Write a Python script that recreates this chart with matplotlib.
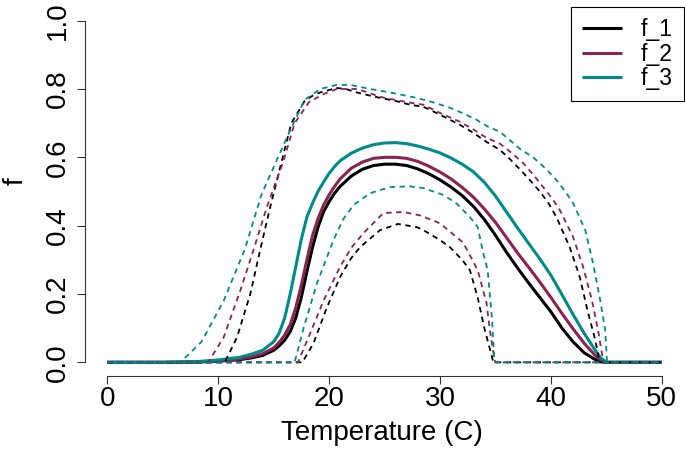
import matplotlib
matplotlib.use("Agg")
import matplotlib.pyplot as plt

plt.rcParams['font.family'] = ['Liberation Sans', 'DejaVu Sans']

# temperature (C) / value pairs
t1 = [0, 5, 8, 10, 12, 13, 14, 15, 15.5, 16, 16.5, 17, 17.5, 18, 18.5, 19, 19.5, 20, 20.5, 21, 22, 23, 24, 25, 26, 27,
      28, 29, 30, 31, 32, 33, 34, 35, 36, 37, 38, 39, 40, 41, 42, 43, 44, 44.5, 45, 50]
f1 = [0, 0, 0.001, 0.003, 0.008, 0.013, 0.02, 0.035, 0.048, 0.065, 0.09, 0.13, 0.19, 0.265, 0.335, 0.395, 0.44, 0.47,
      0.495, 0.515, 0.545, 0.565, 0.576, 0.58, 0.58, 0.576, 0.566, 0.552, 0.534, 0.513, 0.488, 0.457, 0.418, 0.372,
      0.322, 0.276, 0.232, 0.19, 0.148, 0.1, 0.06, 0.028, 0.008, 0.002, 0, 0]
f2 = [0, 0, 0.001, 0.004, 0.01, 0.016, 0.025, 0.042, 0.058, 0.08, 0.11, 0.16, 0.225, 0.3, 0.37, 0.42, 0.46, 0.49,
      0.515, 0.537, 0.568, 0.586, 0.597, 0.6, 0.6, 0.597, 0.588, 0.574, 0.557, 0.537, 0.512, 0.484, 0.449, 0.41, 0.365,
      0.32, 0.278, 0.235, 0.19, 0.143, 0.098, 0.056, 0.02, 0.006, 0, 0]
f3 = [0, 0, 0.002, 0.007, 0.015, 0.024, 0.035, 0.06, 0.085, 0.13, 0.2, 0.28, 0.36, 0.425, 0.465, 0.5, 0.527, 0.553,
      0.573, 0.59, 0.612, 0.627, 0.637, 0.642, 0.643, 0.64, 0.633, 0.624, 0.613, 0.598, 0.58, 0.558, 0.527, 0.487,
      0.44, 0.393, 0.348, 0.303, 0.255, 0.198, 0.14, 0.085, 0.035, 0.013, 0, 0]

# upper bounds
t1_hi = [0, 10.6, 11.7, 12.9, 13.8, 14.7, 15.9, 16.6, 17.8, 18.5, 19.2, 20, 20.7, 21.5, 22.5, 23.5, 24.6, 26, 27.3,
         28.5, 30, 31.8, 33, 34.2, 35.4, 36.3, 37.2, 38.2, 39, 39.8, 40.5, 41.7, 42.6, 43.3, 44, 44.3, 44.5, 50]
f1_hi = [0, 0, 0.073, 0.2, 0.33, 0.455, 0.61, 0.7, 0.765, 0.78, 0.79, 0.797, 0.803, 0.8, 0.79, 0.782, 0.774, 0.765,
         0.754, 0.748, 0.725, 0.695, 0.672, 0.645, 0.622, 0.595, 0.565, 0.53, 0.5, 0.465, 0.425, 0.337, 0.25, 0.152,
         0.065, 0.015, 0, 0]
t2_hi = [0, 9.1, 10.5, 12, 13.2, 14.4, 15.9, 16.9, 18.2, 19.5, 20.7, 22.5, 23.5, 24.6, 26, 27.3, 28.5, 30, 31.8, 33,
         34.2, 35.4, 36.5, 37.5, 38.4, 39.3, 40.1, 40.8, 42, 42.9, 43.7, 44.3, 44.6, 44.8, 50]
f2_hi = [0, 0, 0.073, 0.21, 0.33, 0.455, 0.59, 0.7, 0.762, 0.785, 0.8, 0.8, 0.79, 0.777, 0.768, 0.76, 0.754, 0.73,
         0.704, 0.682, 0.657, 0.64, 0.612, 0.583, 0.55, 0.513, 0.48, 0.446, 0.367, 0.28, 0.182, 0.085, 0.026, 0, 0]
t3_hi = [0, 6.6, 8.5, 10.5, 12.4, 13.9, 15.4, 16.8, 17.8, 19.2, 20.7, 21.9, 23.7, 25.5, 27.9, 29.5, 30.9, 32, 33.3,
         34.3, 35.4, 36.3, 37.2, 38.4, 39.5, 40.5, 41.3, 42, 43.1, 43.8, 44.4, 44.9, 45.05, 45.1, 50]
f3_hi = [0, 0, 0.06, 0.18, 0.33, 0.49, 0.6, 0.7, 0.768, 0.8, 0.812, 0.812, 0.8, 0.79, 0.774, 0.76, 0.745, 0.73,
         0.71, 0.69, 0.675, 0.65, 0.625, 0.6, 0.568, 0.534, 0.5, 0.466, 0.387, 0.29, 0.19, 0.094, 0.006, 0, 0]

# lower bounds
t1_lo = [0, 17.6, 18.6, 19.8, 21, 22, 22.8, 24.6, 26.2, 27.9, 28.5, 30, 30.9, 32, 32.7, 33.4, 34, 34.7, 34.8, 50]
f1_lo = [0, 0, 0.056, 0.16, 0.25, 0.305, 0.337, 0.387, 0.405, 0.396, 0.387, 0.358, 0.337, 0.3, 0.27, 0.19, 0.1,
         0.015, 0, 0]
t2_lo = [0, 17.2, 18.3, 19.5, 21, 22, 23.1, 24.9, 26.7, 28.2, 30, 31, 32.1, 33.4, 34.2, 34.5, 34.9, 35, 50]
f2_lo = [0, 0, 0.085, 0.18, 0.28, 0.335, 0.378, 0.437, 0.44, 0.43, 0.407, 0.38, 0.35, 0.27, 0.173, 0.094, 0.01, 0, 0]
t3_lo = [0, 16.9, 17.7, 18.9, 20.4, 21.3, 22.2, 23.7, 25.5, 27.3, 28.5, 30.3, 31.5, 32.7, 33.4, 33.9, 34.3, 34.7,
         34.9, 35, 50]
f3_lo = [0, 0, 0.1, 0.23, 0.358, 0.42, 0.46, 0.495, 0.513, 0.515, 0.51, 0.49, 0.465, 0.425, 0.396, 0.32, 0.27, 0.123,
         0.006, 0, 0]

labels = ['f_1', 'f_2', 'f_3']
colors = ['black', '#8B2252', '#008B8B']

fig = plt.figure(figsize=(6.85, 4.5), dpi=100)
ax = fig.add_axes([85 / 685, 1 - 376 / 450, 599 / 685, 369 / 450])

dash = (0, (3, 2.5))
mids = [(t1, f1), (t1, f2), (t1, f3)]
his = [(t1_hi, f1_hi), (t2_hi, f2_hi), (t3_hi, f3_hi)]
los = [(t1_lo, f1_lo), (t2_lo, f2_lo), (t3_lo, f3_lo)]
for (x, y), lab, c in zip(mids, labels, colors):
    ax.plot(x, y, color=c, lw=2.2, label=lab, solid_capstyle='butt')
for (x, y), c in zip(his, colors):
    ax.plot(x, y, color=c, lw=1.3, linestyle=dash)
for (x, y), c in zip(los, colors):
    ax.plot(x, y, color=c, lw=1.3, linestyle=dash)

ax.set_xlim(-2, 52)
ax.set_ylim(-0.04, 1.04)
ax.set_xticks([0, 10, 20, 30, 40, 50])
ax.set_yticks([0, 0.2, 0.4, 0.6, 0.8, 1.0])
ax.set_yticklabels(['0.0', '0.2', '0.4', '0.6', '0.8', '1.0'])
ax.spines['top'].set_visible(False)
ax.spines['right'].set_visible(False)
ax.spines['left'].set_bounds(0, 1)
ax.spines['bottom'].set_bounds(0, 50)
for s in ['left', 'bottom']:
    ax.spines[s].set_linewidth(0.8)
    ax.spines[s].set_color('#333333')
ax.tick_params(axis='both', length=5.5, width=0.8, color='#333333', labelsize=20)
ax.tick_params(axis='x', pad=2)
ax.tick_params(axis='y', pad=5)
for lbl in ax.get_yticklabels():
    lbl.set_rotation(90)
    lbl.set_va('center')

fig.text(382 / 685, 1 - 433 / 450, 'Temperature (C)', fontsize=20, ha='center', va='center')
fig.text(16 / 685, 1 - 181 / 450, 'f', fontsize=20, ha='center', va='center', rotation=90)

leg = ax.legend(loc='upper right', bbox_to_anchor=(1, 1), fontsize=16.5, frameon=True, fancybox=False,
                edgecolor='black', framealpha=1, borderaxespad=0, handlelength=1.75, handletextpad=0.8,
                labelspacing=0.05, borderpad=0.5)
leg.get_frame().set_linewidth(0.8)

fig.savefig('out.png', dpi=100)
